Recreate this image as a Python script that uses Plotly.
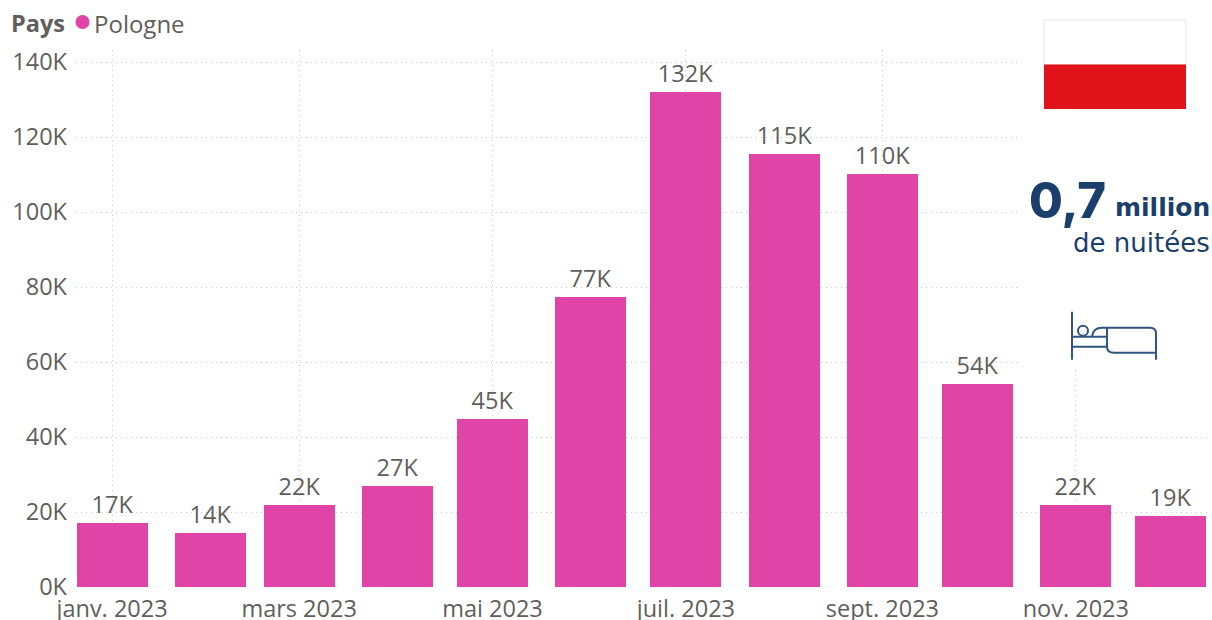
import plotly.graph_objects as go

months = ["2023-%02d-01" % m for m in range(1, 13)]
values = [17200, 14400, 22000, 27000, 44700, 77300, 132000, 115500, 110200, 54200, 22000, 19000]
labels = ["17K", "14K", "22K", "27K", "45K", "77K", "132K", "115K", "110K", "54K", "22K", "19K"]
tick_dates = ["2023-01-01", "2023-03-01", "2023-05-01", "2023-07-01", "2023-09-01", "2023-11-01"]
tick_text = ["janv. 2023", "mars 2023", "mai 2023", "juil. 2023", "sept. 2023", "nov. 2023"]
y_ticks = [0, 20000, 40000, 60000, 80000, 100000, 120000, 140000]
y_text = ["0K", "20K", "40K", "60K", "80K", "100K", "120K", "140K"]

FONT = "Open Sans"
TEXT = "#605E5C"
PINK = "#E044A7"
NAVY = "#1B3F6D"
ICON = "#2F5580"
W, H = 1212, 620
L, R, T, B = 76, 5, 50, 32.5


def px(x):
    return (x - L) / (W - L - R)


def py(y):
    return 1 - (y - T) / (H - T - B)


def path(*parts):
    out = []
    for p in parts:
        if isinstance(p, str):
            out.append(p)
        else:
            out.append(f"{px(p[0]):.5f},{py(p[1]):.5f}")
    return " ".join(out)


fig = go.Figure()
fig.add_bar(
    x=months, y=values, text=labels, textposition="outside", cliponaxis=False,
    width=22.4 * 86400000, marker=dict(color=PINK, line_width=0),
    textfont=dict(family=FONT, size=23.5, color=TEXT), showlegend=False,
)

grid = dict(showgrid=True, gridcolor="#C8C8C8", griddash="1px,4px", gridwidth=1, zeroline=False,
            showline=False, ticks="", automargin=False, tickfont=dict(family=FONT, size=23.5, color=TEXT))

shapes = [
    dict(type="rect", xref="paper", yref="paper", x0=px(1018), x1=px(1212), y0=py(368), y1=py(0),
         fillcolor="white", line_width=0, layer="above"),
    dict(type="rect", xref="paper", yref="paper", x0=px(1044), x1=px(1186), y0=py(64.5), y1=py(20),
         fillcolor="white", line=dict(color="#E6E6E6", width=1), layer="above"),
    dict(type="rect", xref="paper", yref="paper", x0=px(1044), x1=px(1186), y0=py(109), y1=py(64.5),
         fillcolor="#E0141A", line_width=0, layer="above"),
    dict(type="circle", xref="paper", yref="paper", x0=px(75.5), x1=px(89.5), y0=py(29), y1=py(15),
         fillcolor=PINK, line_width=0, layer="above"),
]
bed = [
    path("M", (1072, 312), "L", (1072, 360)),
    path("M", (1072, 337), "L", (1107, 337)),
    path("M", (1072, 347), "L", (1107, 347)),
    path("M", (1092, 337), "Q", (1093, 328), (1102, 328), "L", (1150, 328),
         "Q", (1156, 328), (1156, 334), "L", (1156, 360)),
    path("M", (1107, 328), "L", (1107, 347), "Q", (1107, 353), (1114, 353), "L", (1156, 353)),
]
for d in bed:
    shapes.append(dict(type="path", xref="paper", yref="paper", path=d,
                       line=dict(color=ICON, width=2), layer="above"))
shapes.append(dict(type="circle", xref="paper", yref="paper", x0=px(1078), x1=px(1088), y0=py(336), y1=py(326),
                   line=dict(color=ICON, width=2), fillcolor="rgba(0,0,0,0)", layer="above"))

annotations = [
    dict(xref="paper", yref="paper", x=px(11), y=py(23), xanchor="left", yanchor="middle", showarrow=False,
         xshift=-2, text="<b>Pays</b>", font=dict(family=FONT, size=23.5, color=TEXT)),
    dict(xref="paper", yref="paper", x=px(93), y=py(23), xanchor="left", yanchor="middle", showarrow=False,
         xshift=-1, text="Pologne", font=dict(family=FONT, size=24, color=TEXT)),
    dict(xref="paper", yref="paper", x=px(1108), y=py(201), xanchor="right", yanchor="middle", showarrow=False,
         text="0,7", font=dict(family="Inter", color=NAVY, size=49, weight=800)),
    dict(xref="paper", yref="paper", x=px(1212), y=py(208), xanchor="right", yanchor="middle", showarrow=False,
         text="million", font=dict(family="DejaVu Sans", color=NAVY, size=25, weight=700)),
    dict(xref="paper", yref="paper", x=px(1212), y=py(243), xanchor="right", yanchor="middle", showarrow=False,
         text="de nuitées", font=dict(family="DejaVu Sans", color=NAVY, size=26)),
]

fig.update_layout(
    width=W, height=H, margin=dict(l=L, r=R, t=T, b=B, pad=0, autoexpand=False),
    paper_bgcolor="white", plot_bgcolor="white", bargap=0, showlegend=False,
    font=dict(family=FONT, color=TEXT),
    xaxis=dict(type="date", range=["2022-12-20 15:00", "2023-12-12 09:00"],
               tickvals=tick_dates, ticktext=tick_text, tickangle=0, ticklabelstandoff=5, **grid),
    yaxis=dict(range=[0, 143200], tickvals=y_ticks, ticktext=y_text, ticklabelstandoff=8, **grid),
    shapes=shapes, annotations=annotations,
)
fig.write_html("out.html", config={"displayModeBar": False},
               post_script="document.body.style.margin='0';")
